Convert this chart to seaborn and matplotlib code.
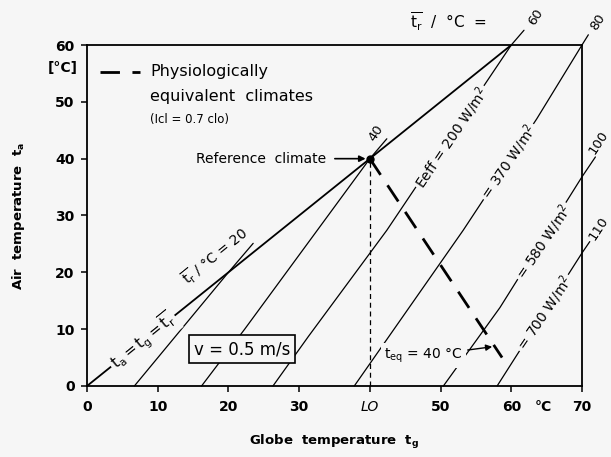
import numpy as np
import pandas as pd
import matplotlib.pyplot as plt
import seaborn as sns

sns.set_style('ticks')
plt.rcParams['font.family'] = ['DejaVu Sans']
plt.rcParams['mathtext.default'] = 'regular'
plt.rcParams['text.color'] = 'black'
plt.rcParams['xtick.color'] = 'black'
plt.rcParams['ytick.color'] = 'black'
plt.rcParams['axes.labelcolor'] = 'black'
plt.rcParams['axes.edgecolor'] = 'black'

bg = '#f6f6f6'

# Isolines of mean radiant temperature (tg, ta)
tr_values = [20, 40, 60, 80, 100, 110]
tr_tg = [
    [6.7, 20.0, 23.5],
    [16.2, 22.3, 40.0, 42.4],
    [26.3, 31.3, 42.4, 60.0, 61.8],
    [37.8, 53.2, 63.6, 70.0, 70.9],
    [50.4, 58.4, 70.0, 71.9],
    [58.0, 70.0, 71.1],
]
tr_ta = [
    [0.0, 20.0, 25.1],
    [0.0, 10.0, 40.0, 43.5],
    [0.0, 8.7, 27.4, 60.0, 62.6],
    [0.0, 27.4, 47.0, 60.0, 61.8],
    [0.0, 13.8, 36.8, 40.3],
    [0.0, 23.4, 25.4],
]
# label position of the tr value at the end of each line
tr_label_x = [None, 40.9, 63.4, 72.2, 72.3, 72.3]
tr_label_y = [None, 44.5, 64.9, 64.0, 42.9, 27.7]

# Effective radiation labels along the lines
eeff_text = ['Eeff = 200 W/m$^2$', '= 370 W/m$^2$', '= 580 W/m$^2$', '= 700 W/m$^2$']
eeff_x = [51.6, 59.7, 64.6, 64.7]
eeff_y = [43.7, 39.4, 25.3, 12.8]

# ta = tg = tr line
diag_tg = [0, 60]
diag_ta = [0, 60]

# physiologically equivalent climates, from the reference climate
equiv_tg = [40.0, 58.7]
equiv_ta = [40.0, 5.0]
ref_tg, ref_ta = 40, 40

x_ticks = [0, 10, 20, 30, 40, 50, 60, 70]
x_ticklabels = ['0', '10', '20', '30', 'LO', '50', '60', '70']
y_ticks = [0, 10, 20, 30, 40, 50, 60]

fig = plt.figure(figsize=(6.11, 4.57), dpi=100, facecolor=bg)
ax = fig.add_axes([0.1424, 0.1554, 0.8101, 0.7461])
ax.set_facecolor(bg)

lbl_box = dict(boxstyle='square,pad=0.15', fc=bg, ec='none')

# isolines
for i, tr in enumerate(tr_values):
    line_df = pd.DataFrame({'tg': tr_tg[i], 'ta': tr_ta[i]})
    sns.lineplot(data=line_df, x='tg', y='ta', ax=ax, color='black', lw=0.9,
                 estimator=None, sort=False, clip_on=False, zorder=2)
    if tr_label_x[i] is not None:
        ax.text(tr_label_x[i], tr_label_y[i], str(tr), rotation=57, ha='center', va='center',
                fontsize=9.5, zorder=5)

# diagonal ta = tg = tr
sns.lineplot(x=diag_tg, y=diag_ta, ax=ax, color='black', lw=1.3, estimator=None, zorder=3)

# equivalent climates
sns.lineplot(x=equiv_tg, y=equiv_ta, ax=ax, color='black', lw=2.0, estimator=None,
             dashes=False, zorder=4).lines[-1].set_dashes((7, 4.5))
ax.plot([ref_tg, ref_tg], [0, ref_ta], color='black', lw=0.9, dashes=(4, 3), zorder=2)
ax.plot([ref_tg], [ref_ta], 'o', color='black', ms=5, zorder=6)

# labels on the lines
for t, x, y in zip(eeff_text, eeff_x, eeff_y):
    ax.text(x, y, t, rotation=56, ha='center', va='center', fontsize=10,
            bbox=lbl_box, zorder=5)
ax.text(7.9, 7.9, r'$t_a = t_g = \overline{t_r}$', rotation=39, ha='center', va='center',
        fontsize=11, bbox=lbl_box, zorder=5)
ax.text(18.1, 22.9, r'$\overline{t_r}$ / °C = 20', rotation=39, ha='center', va='center',
        fontsize=10, zorder=5)
ax.text(51.1, 64.1, r'$\overline{t_r}$  /  °C  =', ha='center', va='center', fontsize=11,
        clip_on=False)

# legend
ax.plot([1.8, 7.5], [55.3, 55.3], color='black', lw=2.0, dashes=(7, 4.5))
ax.text(8.9, 55.3, 'Physiologically', ha='left', va='center', fontsize=11.5)
ax.text(8.9, 50.9, 'equivalent  climates', ha='left', va='center', fontsize=11.5)
ax.text(8.9, 46.9, '(Icl = 0.7 clo)', ha='left', va='center', fontsize=8.5)

# reference climate and teq
ax.annotate('Reference  climate', xy=(39.4, 40), xytext=(33.8, 40), ha='right', va='center',
            fontsize=10, arrowprops=dict(arrowstyle='-|>', color='black', lw=1.2,
                                         shrinkA=4, shrinkB=0, mutation_scale=9))
ax.annotate(r'$t_{eq}$ = 40 °C', xy=(57.3, 6.9), xytext=(47.6, 5.3), ha='center', va='center',
            fontsize=10, bbox=dict(boxstyle='square,pad=0.25', fc=bg, ec='none'),
            arrowprops=dict(arrowstyle='-|>', color='black', lw=1.0,
                            shrinkA=1, shrinkB=0, mutation_scale=9), zorder=5)

# velocity box
ax.text(21.9, 6.5, 'v = 0.5 m/s', ha='center', va='center', fontsize=12, zorder=6,
        bbox=dict(boxstyle='square,pad=0.3', fc=bg, ec='black', lw=1.2))

# axes
ax.set_xlim(0, 70)
ax.set_ylim(0, 60)
ax.set_xticks(x_ticks)
ax.set_xticklabels(x_ticklabels, fontsize=10, fontweight='bold')
ax.get_xticklabels()[4].set_fontstyle('italic')
ax.get_xticklabels()[4].set_fontweight('normal')
ax.set_yticks(y_ticks)
ax.set_yticklabels([str(v) for v in y_ticks], fontsize=10, fontweight='bold')
ax.tick_params(axis='x', length=4, width=1.1, pad=6)
ax.tick_params(axis='y', length=4, width=1.1, pad=5)
for s in ax.spines.values():
    s.set_linewidth(1.3)

ax.text(64.5, -0.062, '°C', transform=ax.get_xaxis_transform(), ha='center', va='center',
        fontsize=10, fontweight='bold')
ax.text(-0.05, 56.0, '[°C]', transform=ax.get_yaxis_transform(), ha='center', va='center',
        fontsize=10, fontweight='bold')

ax.set_xlabel(r'Globe  temperature  $t_g$', fontsize=9.5, fontweight='bold', labelpad=14)
ax.set_ylabel(r'Air  temperature  $t_a$', fontsize=9.5, fontweight='bold', labelpad=20)

fig.savefig('out.png', dpi=100, facecolor=bg)
